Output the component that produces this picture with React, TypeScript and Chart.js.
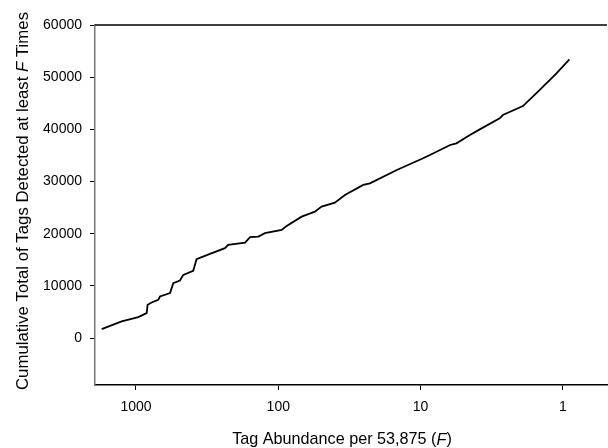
import React, { useEffect, useRef } from "react";
import { Chart, registerables } from "chart.js";

Chart.register(...registerables);

const tagAbundance = [1742, 1260, 963, 841, 828, 776, 697, 678, 576, 547, 491, 465, 396, 375, 328, 302, 237, 225, 171, 158, 138, 124, 94.6, 87.3, 68.5, 55.3, 49.6, 40, 34, 25.3, 22.7, 14.7, 9.6, 8.6, 6.2, 5.6, 4.5, 3.84, 2.78, 2.64, 1.91, 1.46, 1.11, 0.9];
const cumulativeTotal = [1720, 3180, 4020, 4780, 6370, 6810, 7330, 7960, 8610, 10530, 11020, 12110, 12880, 15120, 15750, 16140, 17230, 17860, 18300, 19330, 19440, 20100, 20730, 21490, 23270, 24230, 25190, 25950, 27430, 29340, 29660, 32210, 34450, 35080, 37000, 37320, 38910, 40000, 42100, 42740, 44460, 47520, 50720, 53400];
const xTickValues = [1000, 100, 10, 1];
const yTickValues = [0, 10000, 20000, 30000, 40000, 50000, 60000];

const FONT = '"Liberation Sans", Arial, sans-serif';

const titlesPlugin = {
  id: "titles",
  afterDraw(chart: any) {
    const { ctx, chartArea } = chart;
    ctx.save();
    ctx.strokeStyle = "#000";
    ctx.lineWidth = 1.5;
    ctx.beginPath();
    ctx.moveTo(chartArea.left, chartArea.top);
    ctx.lineTo(chartArea.right, chartArea.top);
    ctx.stroke();

    const drawParts = (parts: [string, boolean][], size: number) => {
      let total = 0;
      const widths = parts.map(([t, it]) => {
        ctx.font = `${it ? "italic " : ""}${size}px ${FONT}`;
        const w = ctx.measureText(t).width;
        total += w;
        return w;
      });
      let x = -total / 2;
      parts.forEach(([t, it], i) => {
        ctx.font = `${it ? "italic " : ""}${size}px ${FONT}`;
        ctx.fillText(t, x, 0);
        x += widths[i];
      });
    };
    ctx.fillStyle = "#000";
    ctx.textBaseline = "middle";
    ctx.textAlign = "left";
    ctx.save();
    ctx.translate(23, 201);
    ctx.rotate(-Math.PI / 2);
    drawParts([["Cumulative Total of Tags Detected at least ", false], ["F", true], [" Times", false]], 16.8);
    ctx.restore();
    ctx.save();
    ctx.translate(342, 440);
    drawParts([["Tag Abundance per 53,875 (", false], ["F", true], [")", false]], 16.2);
    ctx.restore();
    ctx.restore();
  },
};

export default function App() {
  const ref = useRef<HTMLCanvasElement>(null);
  useEffect(() => {
    if (!ref.current) return;
    const chart = new Chart(ref.current, {
      type: "line",
      data: {
        datasets: [
          {
            data: tagAbundance.map((f, i) => ({ x: f, y: cumulativeTotal[i] })),
            borderColor: "#000",
            borderWidth: 1.8,
            pointRadius: 0,
            tension: 0,
            fill: false,
          },
        ],
      },
      options: {
        animation: false,
        responsive: false,
        maintainAspectRatio: false,
        layout: { padding: { left: 0, top: 25, right: 1, bottom: 0 } },
        plugins: { legend: { display: false }, tooltip: { enabled: false } },
        scales: {
          x: {
            type: "logarithmic",
            reverse: true,
            min: 0.49,
            max: 1940,
            afterBuildTicks: (scale: any) => {
              scale.ticks = xTickValues.map((v) => ({ value: v }));
            },
            afterFit: (scale: any) => {
              scale.height = 63;
            },
            ticks: {
              autoSkip: false,
              maxRotation: 0,
              padding: 9,
              color: "#000",
              font: { family: FONT, size: 14 },
              callback: (v: any) => String(v),
            },
            grid: { drawOnChartArea: false, tickLength: 5, color: "#000", lineWidth: 1 },
            border: { display: true, color: "#000", width: 1.5 },
          },
          y: {
            type: "linear",
            min: -9000,
            max: 60000,
            afterBuildTicks: (scale: any) => {
              scale.ticks = yTickValues.map((v) => ({ value: v }));
            },
            afterFit: (scale: any) => {
              scale.width = 95;
            },
            ticks: {
              padding: 8,
              color: "#000",
              font: { family: FONT, size: 14 },
              callback: (v: any) => String(v),
            },
            grid: { drawOnChartArea: false, tickLength: 5, color: "#000", lineWidth: 1 },
            border: { display: true, color: "#777", width: 1.5 },
          },
        },
      },
      plugins: [titlesPlugin],
    });
    return () => chart.destroy();
  }, []);
  return (
    <div style={{ position: "fixed", left: 0, top: 0, width: 608, height: 448, background: "#fff" }}>
      <canvas ref={ref} width={608} height={448} style={{ width: 608, height: 448, display: "block" }} />
    </div>
  );
}
